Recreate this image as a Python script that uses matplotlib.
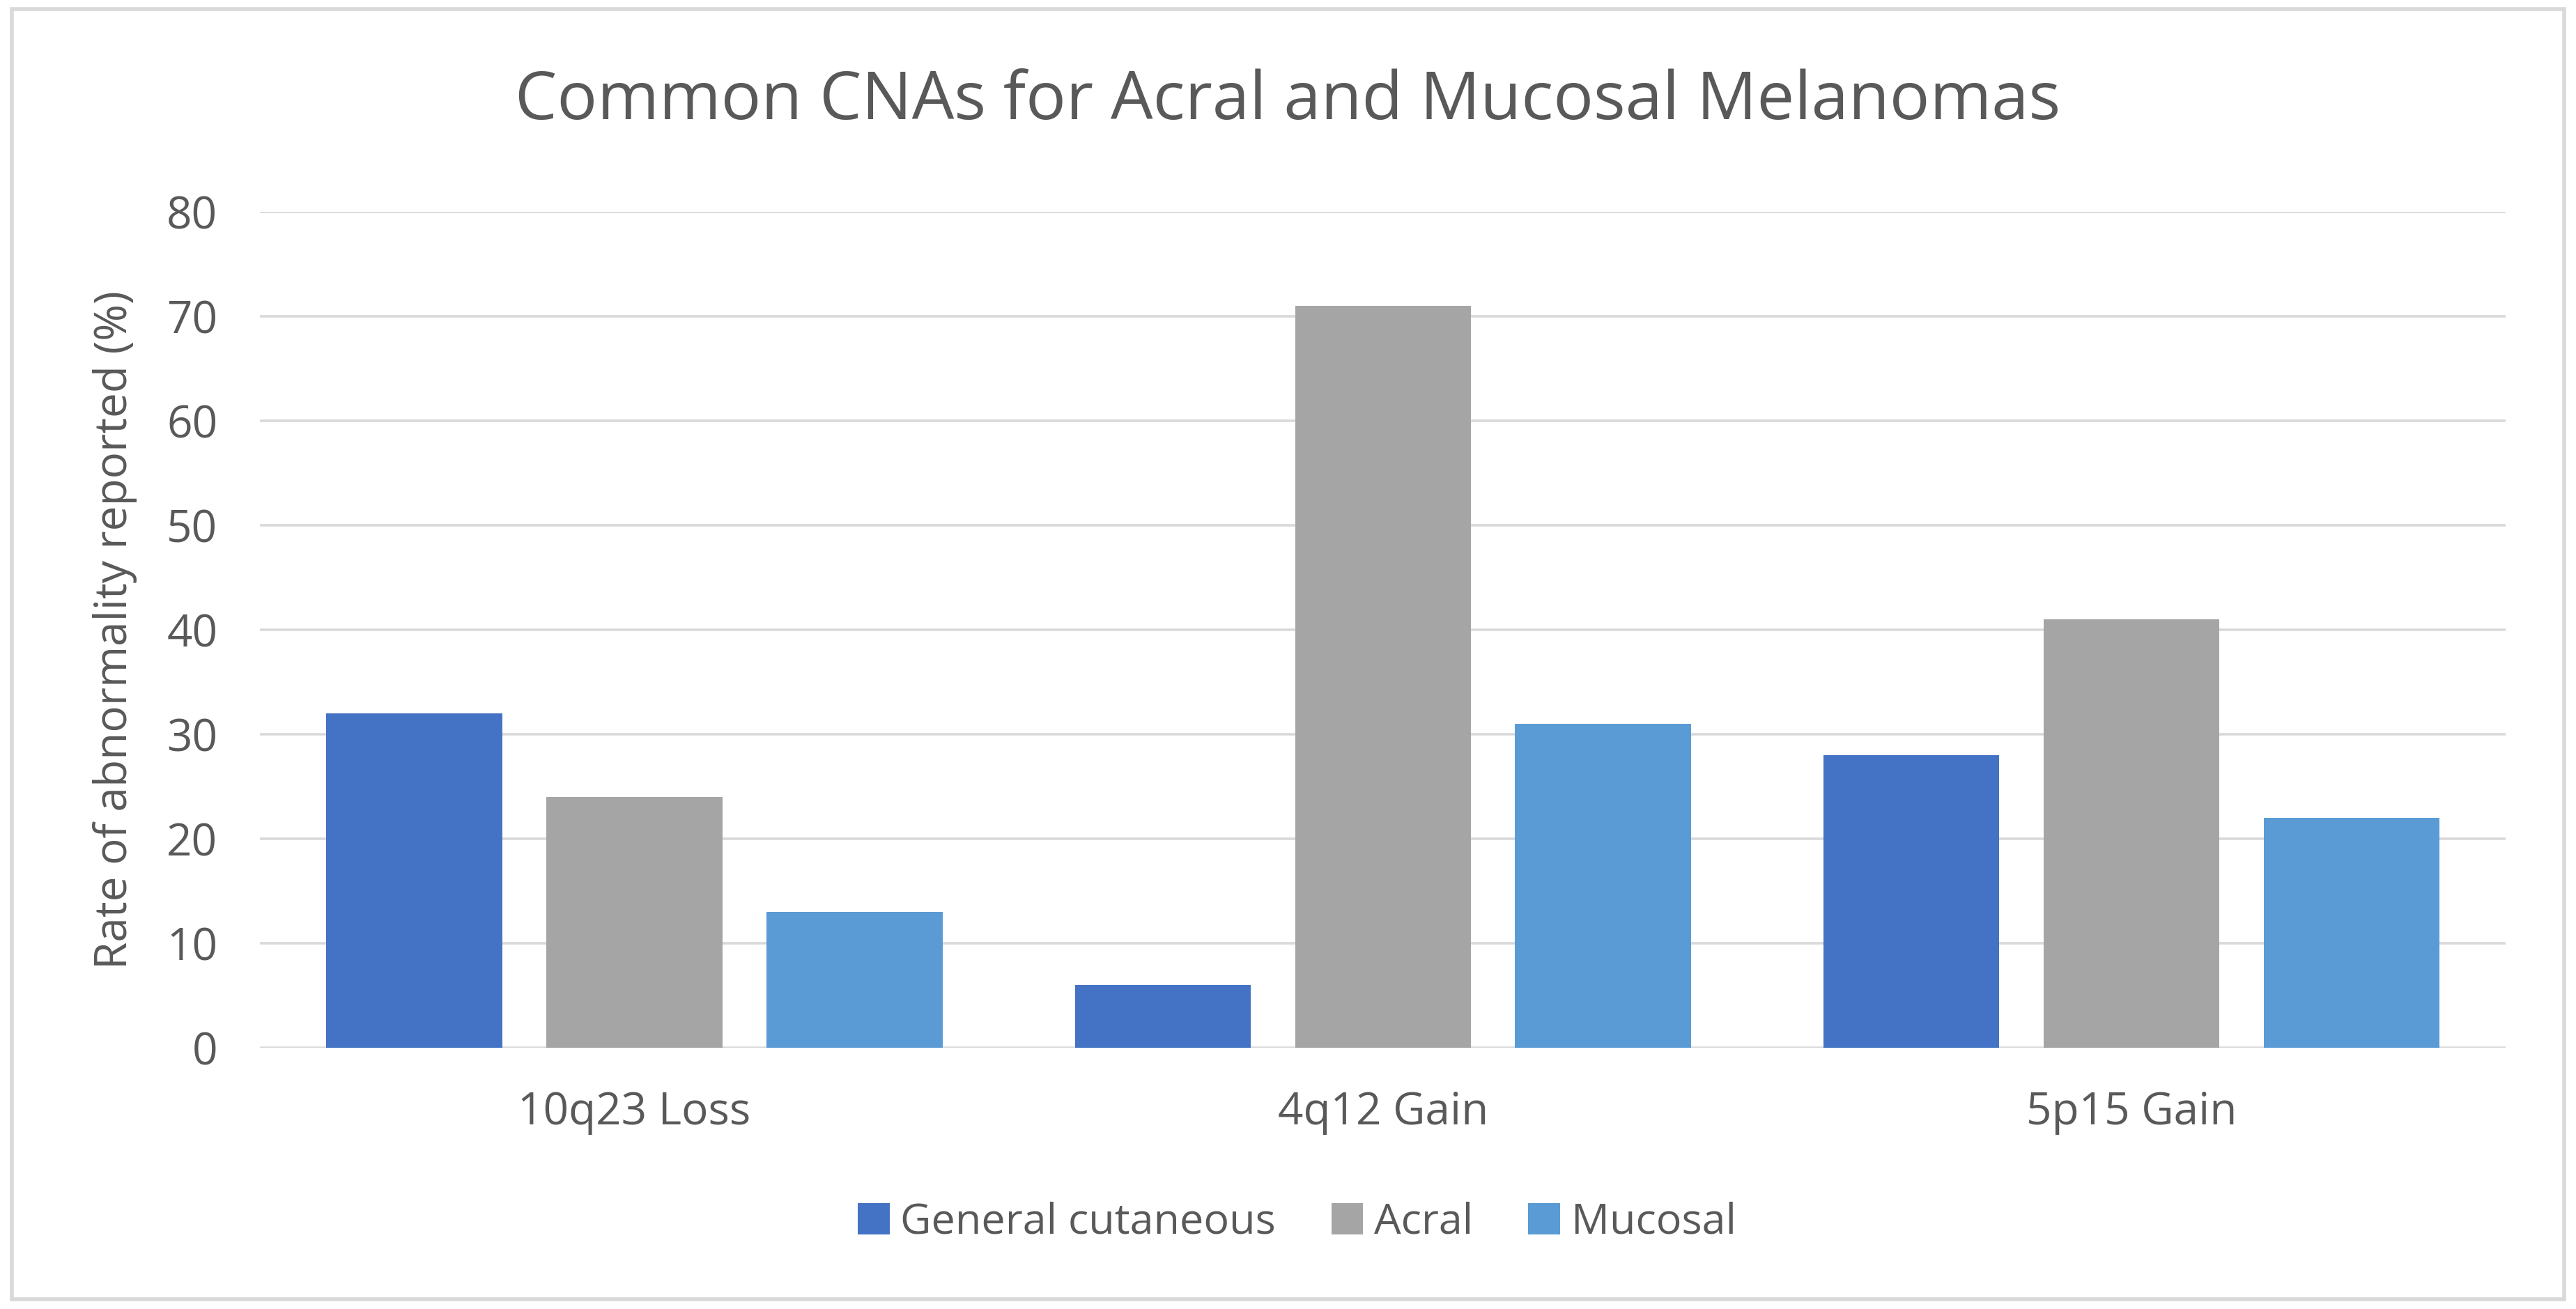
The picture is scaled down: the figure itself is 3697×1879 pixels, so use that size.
import matplotlib.pyplot as plt
import numpy as np
from matplotlib.patches import Rectangle

# data
categories = ["10q23 Loss", "4q12 Gain", "5p15 Gain"]
series_names = ["General cutaneous", "Acral", "Mucosal"]
general = [32, 6, 28]
acral = [24, 71, 41]
mucosal = [13, 31, 22]
y_ticks = [0, 10, 20, 30, 40, 50, 60, 70, 80]

colors = ["#4472C4", "#A5A5A5", "#5B9BD5"]
text_col = "#595959"
grid_col = "#D9D9D9"

plt.rcParams['font.family'] = ['Open Sans', 'DejaVu Sans']

fig = plt.figure(figsize=(3697 / 200, 1879 / 200), dpi=200)
ax = fig.add_axes([0.101, 0.1996, 0.8717, 0.6384])

x = np.arange(len(categories))
step = 0.294
width = 0.235
for i, (vals, name) in enumerate(zip([general, acral, mucosal], series_names)):
    ax.bar(x + (i - 1) * step, vals, width, color=colors[i], label=name, zorder=3)

ax.set_xlim(-0.5, len(categories) - 0.5)
ax.set_ylim(0, 80)
ax.set_yticks(y_ticks)
ax.set_xticks(x)
ax.set_xticklabels(categories)
ax.yaxis.grid(True, color=grid_col, linewidth=1.3, zorder=0)
ax.set_axisbelow(True)
for s in ax.spines.values():
    s.set_visible(False)
ax.tick_params(axis='both', length=0, labelsize=23, labelcolor=text_col)
ax.tick_params(axis='y', pad=22)
ax.tick_params(axis='x', pad=22)

fig.text(0.0446, 0.5188, "Rate of abnormality reported (%)", rotation=90,
         ha='center', va='center', fontsize=23, color=text_col)
fig.text(0.5, 0.922, "Common CNAs for Acral and Mucosal Melanomas",
         ha='center', va='center', fontsize=34.5, color=text_col)

fig.legend(loc='center', bbox_to_anchor=(0.5035, 0.066), ncol=3, frameon=False,
           fontsize=22, labelcolor=text_col, handlelength=0.75, handleheight=0.75,
           handletextpad=0.25, columnspacing=1.3)

# light frame around the whole chart
fig.patches.append(Rectangle((0.0045, 0.0075), 0.991, 0.9855, transform=fig.transFigure,
                             fill=False, edgecolor=grid_col, linewidth=2))

fig.savefig("out.png", dpi=200, facecolor='white')
